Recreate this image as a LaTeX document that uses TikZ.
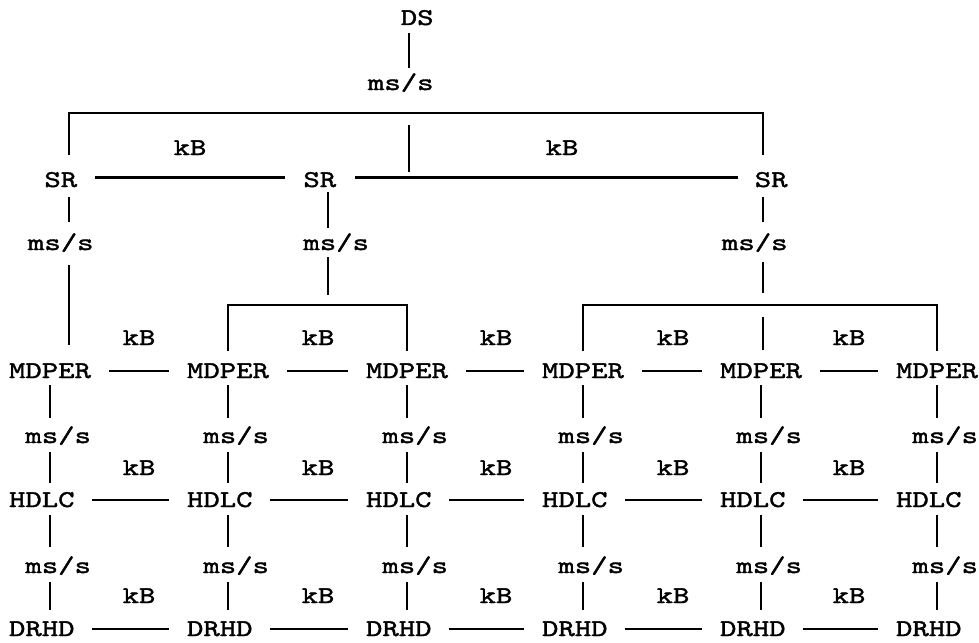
\documentclass[tikz,border=0pt]{standalone}
\usepackage{fontspec}
\newfontfamily\twfont{lmmono10-regular.otf}[FakeStretch=1.3,FakeBold=1.6]
\usetikzlibrary{calc}
\begin{document}
\begin{tikzpicture}[x=1pt,y=-1pt,
  lbl/.style={inner sep=0pt, outer sep=0pt, anchor=base, text height=14.7pt, text depth=0pt,
    font=\twfont\fontsize{24}{28}\selectfont},
  conn/.style={line width=2.3pt},
  bus/.style={line width=2.7pt}]
\useasboundingbox (0,0) rectangle (979,642);
% ---- top level
\node[lbl] (ds) at (417.2,25) {DS};
\node[lbl] (ms0) at (400.8,90) {ms/s};
\coordinate (cD) at (409,0);
\draw[conn, shorten <=8pt, shorten >=7pt] (ds.south -| cD) -- (ms0.north -| cD);
% ---- SR level
\coordinate (cS1) at (69,0);
\coordinate (cS2) at (328,0);
\coordinate (cS3) at (763,0);
\node[lbl] (sr1) at (60.8,187) {SR};
\node[lbl] (sr2) at (319.8,187) {SR};
\node[lbl] (sr3) at (771.2,187) {SR};
\coordinate (tb) at (409,113);
\draw[bus, line join=miter] ($(sr1.north -| cS1)+(0,-17)$) |- (tb) -| ($(sr3.north -| cS3)+(0,-17)$);
\draw[conn] ($(tb)+(0,12)$) -- ($(tb)+(0,59)$);
\draw[bus, shorten <=18pt, shorten >=18pt] ([yshift=2.5pt]sr1.east) -- ([yshift=2.5pt]sr2.west);
\draw[bus, shorten <=19pt, shorten >=17pt] ([yshift=2.5pt]sr2.east) -- ([yshift=2.5pt]sr3.west);
\node[lbl] (kbs1) at (190,155) {kB};
\node[lbl] (kbs2) at (562,155) {kB};
\node[lbl] (ms1) at (60.8,250) {ms/s};
\node[lbl] (ms2) at (336.2,250) {ms/s};
\node[lbl] (ms3) at (754.8,250) {ms/s};
\draw[conn, shorten <=10pt, shorten >=13pt] (sr1.south -| cS1) -- (ms1.north -| cS1);
\draw[conn, shorten <=5pt, shorten >=7pt] (sr2.south -| cS2) -- (ms2.north -| cS2);
\draw[conn, shorten <=10pt, shorten >=13pt] (sr3.south -| cS3) -- (ms3.north -| cS3);
% ---- lower grid
\foreach \i/\X in {1/50,2/228,3/407,4/583,5/761,6/937} {
  \coordinate (c\i) at (\X,0);
  \node[lbl] (md\i) at (\X,378) {MDPER};
  \node[lbl] (ma\i) at (\X+8.2,443) {ms/s};
  \node[lbl] (hd\i) at (\X-8.2,507) {HDLC};
  \node[lbl] (mb\i) at (\X+8.2,573) {ms/s};
  \node[lbl] (dr\i) at (\X-8.2,636) {DRHD};
}
\foreach \i in {1,...,6} {
  \draw[conn, shorten <=7pt, shorten >=10pt] (md\i.south -| c\i) -- (ma\i.north -| c\i);
  \draw[conn, shorten <=9pt, shorten >=9pt] (ma\i.south -| c\i) -- (hd\i.north -| c\i);
  \draw[conn, shorten <=8pt, shorten >=11pt] (hd\i.south -| c\i) -- (mb\i.north -| c\i);
  \draw[conn, shorten <=9pt, shorten >=11pt] (mb\i.south -| c\i) -- (dr\i.north -| c\i);
}
\foreach \i/\j/\K in {1/2/139,2/3/318,3/4/496,4/5/673,5/6/849} {
  \draw[conn, shorten <=18pt, shorten >=18pt] (md\i.east) -- (md\j.west);
  \draw[conn, shorten <=17pt, shorten >=18pt] (hd\i.east) -- (hd\j.west);
  \draw[conn, shorten <=17pt, shorten >=18pt] (dr\i.east) -- (dr\j.west);
  \node[lbl] (ka\i) at (\K,345) {kB};
  \node[lbl] (kb\i) at (\K,475) {kB};
  \node[lbl] (kc\i) at (\K,603) {kB};
}
% ---- connections SR -> MDPER
\draw[conn, shorten <=15pt, shorten >=18pt] (ms1.south -| cS1) -- (md1.north -| cS1);
\coordinate (b2) at (328,305);
\coordinate (b3) at (763,305);
\draw[conn, shorten <=7pt, shorten >=10pt] (ms2.south -| cS2) -- (b2);
\draw[conn, shorten <=12pt, shorten >=12pt] (ms3.south -| cS3) -- (b3);
\draw[bus, line join=miter] ($(md2.north -| c2)+(0,-12)$) |- (b2) -| ($(md3.north -| c3)+(0,-12)$);
\draw[bus, line join=miter] ($(md4.north -| c4)+(0,-12)$) |- (b3) -| ($(md6.north -| c6)+(0,-12)$);
\draw[conn, shorten >=13pt] ($(b3)+(0,12)$) -- (md5.north -| b3);
\end{tikzpicture}
\end{document}
